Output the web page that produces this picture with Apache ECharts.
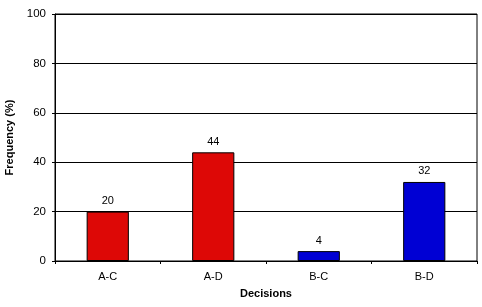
<!DOCTYPE html>
<html>
<head>
<meta charset="utf-8">
<script src="https://cdn.jsdelivr.net/npm/echarts@6/dist/echarts.min.js"></script>
<style>
html,body{margin:0;padding:0;background:#fff;}
#chart{width:482px;height:307px;}
</style>
</head>
<body>
<div id="chart"></div>
<script>
const categories = ['A-C', 'A-D', 'B-C', 'B-D'];
const values = [20, 44, 4, 32];
const barColors = ['#DD0806', '#DD0806', '#0000D4', '#0000D4'];
const yTicks = [0, 20, 40, 60, 80, 100];

const chart = echarts.init(document.getElementById('chart'), null, {renderer: 'canvas'});
const font = 'Liberation Sans, Arial, sans-serif';
chart.setOption({
  animation: false,
  backgroundColor: '#fff',
  grid: {left: 55, right: 5, top: 14, bottom: 46, show: true, borderColor: '#000', borderWidth: 1, containLabel: false, outerBoundsMode: 'none'},
  xAxis: {
    type: 'category',
    data: categories,
    name: 'Decisions',
    nameLocation: 'middle',
    nameGap: 27,
    nameTextStyle: {fontFamily: font, fontSize: 11, fontWeight: 'bold', color: '#000'},
    axisLine: {lineStyle: {color: '#000', width: 1}},
    axisTick: {show: true, alignWithLabel: false, length: 3, inside: false, lineStyle: {color: '#000'}},
    axisLabel: {fontFamily: font, fontSize: 11, color: '#000', margin: 10},
    splitLine: {show: false}
  },
  yAxis: {
    type: 'value',
    min: yTicks[0],
    max: yTicks[yTicks.length - 1],
    interval: 20,
    name: 'Frequency (%)',
    nameLocation: 'middle',
    nameGap: 36,
    nameRotate: 90,
    nameTextStyle: {fontFamily: font, fontSize: 11, fontWeight: 'bold', color: '#000'},
    axisLine: {show: true, lineStyle: {color: '#000', width: 1}},
    axisTick: {show: true, length: 3, lineStyle: {color: '#000'}},
    axisLabel: {fontFamily: font, fontSize: 11.5, color: '#000', margin: 9},
    splitLine: {show: true, lineStyle: {color: '#000', width: 1}}
  },
  series: [{
    type: 'bar',
    data: values.map((v, i) => ({value: v, itemStyle: {color: barColors[i]}})),
    barWidth: '40%',
    itemStyle: {borderColor: '#000', borderWidth: 1},
    label: {show: true, position: 'top', distance: 5, fontFamily: font, fontSize: 11, color: '#000'}
  }]
});
</script>
</body>
</html>
